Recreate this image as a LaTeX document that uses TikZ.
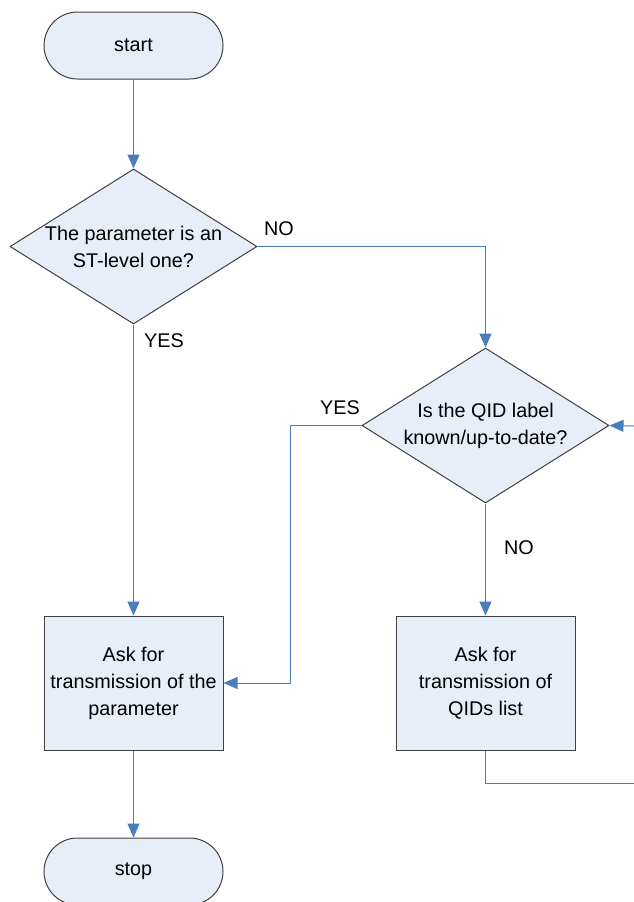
\documentclass[tikz,border=0pt]{standalone}
\usepackage{fontspec}
\setmainfont{Liberation Sans}
\usetikzlibrary{shapes.geometric,arrows.meta}
\definecolor{shapefill}{HTML}{E8EEF7}
\definecolor{shapeline}{HTML}{404040}
\definecolor{flowblue}{HTML}{4A7EBB}
\tikzset{
  txt/.style={font=\fontsize{19.8}{27}\selectfont, align=center, text=black},
  terminal/.style={draw=shapeline, fill=shapefill, line width=1pt,
    rectangle, rounded corners=33.5pt, minimum width=179pt, minimum height=67pt,
    inner sep=0pt, txt},
  decision/.style={draw=shapeline, fill=shapefill, line width=1pt,
    diamond, aspect=1.5935, minimum width=247pt, minimum height=155pt, inner sep=0pt},
  process/.style={draw=shapeline, fill=shapefill, line width=1pt,
    rectangle, minimum width=179pt, minimum height=134pt, inner sep=0pt, txt},
  flow/.style={draw=flowblue, line width=1pt,
    -{Triangle[length=14pt,width=12pt,fill=flowblue]}},
  plainflow/.style={draw=flowblue, line width=1pt},
  answer/.style={txt, inner sep=0pt}
}
\begin{document}
\begin{tikzpicture}[x=1pt,y=-1pt]
  \useasboundingbox (0,0) rectangle (634,902);
  \clip (0,0) rectangle (634,902);

  % shapes
  \node[terminal] (start) at (133.5,45.5) {start};
  \node[decision, label={[txt]center:The parameter is an\\ST-level one?}] (d1) at (133.5,246.5) {};
  \node[decision, label={[txt]center:Is the QID label\\known/up-to-date?}] (d2) at (485.5,425.5) {};
  \node[process] (ask1) at (133.5,683) {Ask for\\transmission of the\\parameter};
  \node[process] (ask2) at (485.5,683) {Ask for\\transmission of\\QIDs list};
  \node[terminal] (stop) at (133.5,871.5) {stop};

  % free ends and bends
  \coordinate (yesbend) at (290,683);
  \coordinate (loopin) at (634,426);
  \coordinate (loopout) at (634,783);

  % connectors
  \draw[flow] (start.south) -- (d1.north);
  \draw[flow] (d1.east) -| (d2.north);
  \draw[flow] (d1.south) -- (ask1.north);
  \draw[flow] (d2.west) -| (yesbend) -- (ask1.east);
  \draw[flow] (d2.south) -- (ask2.north);
  \draw[flow] (ask1.south) -- (stop.north);
  \draw[flow] (loopin) -- (d2.east);
  \draw[plainflow] (ask2.south) |- (loopout);

  % branch labels
  \node[answer] (no1) at (279,229) {NO};
  \node[answer] (yes1) at (164,341) {YES};
  \node[answer] (yes2) at (340,408) {YES};
  \node[answer] (no2) at (519,548) {NO};
\end{tikzpicture}
\end{document}
